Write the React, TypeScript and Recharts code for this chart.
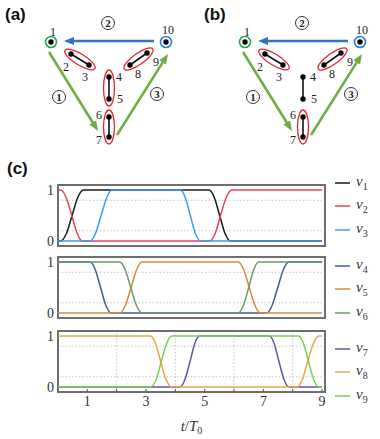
import {
  CartesianGrid,
  Legend,
  Line,
  LineChart,
  ReferenceArea,
  ReferenceDot,
  Scatter,
  ScatterChart,
  XAxis,
  YAxis,
} from "recharts";

// ---- panel (c) data: each series as time points and values
const v1Time = [0, 0.1, 0.29, 0.48, 0.67, 0.87, 5.15, 5.33, 5.51, 5.69, 5.87, 9];
const v1Vals = [0, 0, 0.15, 0.5, 0.85, 1, 1, 0.85, 0.5, 0.15, 0, 0];
const v2Time = [0, 0.1, 0.28, 0.47, 0.65, 0.83, 5.17, 5.36, 5.54, 5.73, 5.92, 9];
const v2Vals = [1, 1, 0.85, 0.5, 0.15, 0, 0, 0.15, 0.5, 0.85, 1, 1];
const v3Time = [0, 1.1, 1.28, 1.47, 1.66, 1.84, 4.17, 4.34, 4.51, 4.68, 4.85, 9];
const v3Vals = [0, 0, 0.15, 0.5, 0.85, 1, 1, 0.85, 0.5, 0.15, 0, 0];

const v4Time = [0, 1.1, 1.27, 1.45, 1.63, 1.8, 7.12, 7.3, 7.49, 7.68, 7.86, 9];
const v4Vals = [1, 1, 0.85, 0.5, 0.15, 0, 0, 0.15, 0.5, 0.85, 1, 1];
const v5Time = [0, 2.12, 2.3, 2.49, 2.68, 2.86, 6.15, 6.33, 6.52, 6.71, 6.89, 9];
const v5Vals = [0, 0, 0.15, 0.5, 0.85, 1, 1, 0.85, 0.5, 0.15, 0, 0];
const v6Time = [0, 2.1, 2.29, 2.48, 2.67, 2.86, 6.15, 6.32, 6.5, 6.67, 6.84, 9];
const v6Vals = [1, 1, 0.85, 0.5, 0.15, 0, 0, 0.15, 0.5, 0.85, 1, 1];

const v7Time = [0, 4.17, 4.33, 4.5, 4.66, 4.82, 7.21, 7.37, 7.53, 7.7, 7.86, 9];
const v7Vals = [0, 0, 0.15, 0.5, 0.85, 1, 1, 0.85, 0.5, 0.15, 0, 0];
const v8Time = [0, 3.15, 3.33, 3.5, 3.68, 3.86, 8.15, 8.33, 8.51, 8.7, 8.88, 9];
const v8Vals = [1, 1, 0.85, 0.5, 0.15, 0, 0, 0.15, 0.5, 0.85, 1, 1];
const v9Time = [0, 3.17, 3.35, 3.52, 3.7, 3.88, 8.2, 8.37, 8.54, 8.71, 8.88, 9];
const v9Vals = [0, 0, 0.15, 0.5, 0.85, 1, 1, 0.85, 0.5, 0.15, 0, 0];

const xTicks = [1, 2, 3, 4, 5, 6, 7, 8, 9];
const xLabelTicks = [1, 3, 5, 7, 9];
const yTicks = [0, 1];

// ---- panels (a)/(b) data: sites of the chain
const nodeIds = [1, 2, 3, 4, 5, 6, 7, 8, 9, 10];
const nodeX = [51, 71, 89, 109, 109, 109, 109, 130, 147, 166];
const nodeY = [42, 54, 65, 77, 99, 117, 137, 65, 53, 42];
const pairs = [
  [2, 3],
  [4, 5],
  [6, 7],
  [8, 9],
];
const circledA = [true, true, true, true];
const circledB = [true, false, true, true];

const stepLabels = ["1", "2", "3"];
const stepX = [59, 108, 157];
const stepY = [97, 23, 94];
const arrowFromX = [49, 154, 117];
const arrowFromY = [52, 41, 135];
const arrowToX = [98, 64, 168];
const arrowToY = [131, 41, 54];

const serif = '"Liberation Serif", "DejaVu Serif", serif';

const zip = (t: number[], v: number[]) => t.map((x, i) => ({ t: x, v: v[i] }));

type Series = { name: string; color: string; points: { t: number; v: number }[] };

const panel1: Series[] = [
  { name: "v1", color: "#1a1a1a", points: zip(v1Time, v1Vals) },
  { name: "v2", color: "#e8415f", points: zip(v2Time, v2Vals) },
  { name: "v3", color: "#3d9df2", points: zip(v3Time, v3Vals) },
];
const panel2: Series[] = [
  { name: "v4", color: "#3e5f99", points: zip(v4Time, v4Vals) },
  { name: "v5", color: "#d98a3a", points: zip(v5Time, v5Vals) },
  { name: "v6", color: "#6b9b6a", points: zip(v6Time, v6Vals) },
];
const panel3: Series[] = [
  { name: "v7", color: "#6650a6", points: zip(v7Time, v7Vals) },
  { name: "v8", color: "#eaa745", points: zip(v8Time, v8Vals) },
  { name: "v9", color: "#7ccf4e", points: zip(v9Time, v9Vals) },
];

const ringColor: Record<number, string> = { 1: "#27a553", 10: "#2a7dd1" };
const labelOffset: Record<number, [number, number]> = {
  1: [2, -10],
  2: [-5, 13],
  3: [-4, 12],
  4: [10, 0],
  5: [11, 0],
  6: [-10, -2],
  7: [-10, 3],
  8: [8, 9],
  9: [9, 9],
  10: [2, -12],
};
const arrowColors = ["#6fae45", "#2e75c0", "#6fae45"];

const emptyShape = () => <g />;

function NodeShape(props: any) {
  const { cx, cy, payload } = props;
  const ring = ringColor[payload.id];
  const [dx, dy] = labelOffset[payload.id];
  return (
    <g>
      {ring && <circle cx={cx} cy={cy} r={5.5} fill="#fff" stroke={ring} strokeWidth={1.6} />}
      <circle cx={cx} cy={cy} r={2.7} fill="#000" />
      <text
        x={cx + dx}
        y={cy + dy}
        textAnchor="middle"
        dominantBaseline="central"
        fontFamily={serif}
        fontSize={12}
        fill="#222"
        stroke="none"
      >
        {payload.id}
      </text>
    </g>
  );
}

function renderPair(p: any, circled: boolean) {
  const pts = p.points || [];
  if (pts.length < 2) return <g />;
  const [a, b] = pts;
  const mx = (a.x + b.x) / 2;
  const my = (a.y + b.y) / 2;
  const ang = (Math.atan2(b.y - a.y, b.x - a.x) * 180) / Math.PI;
  const half = Math.hypot(b.x - a.x, b.y - a.y) / 2;
  return (
    <g>
      {circled && (
        <ellipse
          cx={mx}
          cy={my}
          rx={half + 7}
          ry={5.5}
          transform={`rotate(${ang} ${mx} ${my})`}
          fill="none"
          stroke="#e3262b"
          strokeWidth={1.3}
        />
      )}
      <line x1={a.x} y1={a.y} x2={b.x} y2={b.y} stroke="#111" strokeWidth={1.6} />
    </g>
  );
}

function renderArrow(p: any, id: string, color: string) {
  const pts = p.points || [];
  if (pts.length < 2) return <g />;
  const [a, b] = pts;
  const len = Math.hypot(b.x - a.x, b.y - a.y);
  const ux = (b.x - a.x) / len;
  const uy = (b.y - a.y) / len;
  return (
    <g>
      <defs>
        <marker
          id={id}
          markerWidth={10}
          markerHeight={8}
          refX={3}
          refY={4}
          orient="auto"
          markerUnits="userSpaceOnUse"
        >
          <path d="M0,0 L10,4 L0,8 z" fill={color} />
        </marker>
      </defs>
      <line
        x1={a.x}
        y1={a.y}
        x2={b.x - ux * 7}
        y2={b.y - uy * 7}
        stroke={color}
        strokeWidth={2.6}
        markerEnd={`url(#${id})`}
      />
    </g>
  );
}

function Diagram({ id, circled }: { id: string; circled: boolean[] }) {
  const nodes = nodeIds.map((n, i) => ({ id: n, x: nodeX[i], y: nodeY[i] }));
  const find = (n: number) => nodes[nodeIds.indexOf(n)];
  return (
    <ScatterChart width={186} height={150} margin={{ top: 0, right: 0, bottom: 0, left: 0 }}>
      <XAxis type="number" dataKey="x" domain={[0, 186]} hide allowDataOverflow />
      <YAxis type="number" dataKey="y" domain={[0, 150]} reversed hide allowDataOverflow />
      {arrowFromX.map((_, i) => (
        <Scatter
          key={`arrow${i}`}
          data={[
            { x: arrowFromX[i], y: arrowFromY[i] },
            { x: arrowToX[i], y: arrowToY[i] },
          ]}
          shape={emptyShape}
          line={(p: any) => renderArrow(p, `${id}-arrow${i}`, arrowColors[i])}
          isAnimationActive={false}
        />
      ))}
      {pairs.map(([a, b], i) => (
        <Scatter
          key={`pair${i}`}
          data={[find(a), find(b)]}
          shape={emptyShape}
          line={(p: any) => renderPair(p, circled[i])}
          isAnimationActive={false}
        />
      ))}
      <Scatter data={nodes} shape={NodeShape} isAnimationActive={false} />
      {stepLabels.map((s, i) => (
        <ReferenceDot
          key={s}
          x={stepX[i]}
          y={stepY[i]}
          r={6.5}
          fill="#fff"
          stroke="#333"
          strokeWidth={1}
          label={{
            value: s,
            position: "center",
            fill: "#222",
            fontSize: 11,
            fontWeight: "bold",
            fontFamily: serif,
          }}
        />
      ))}
    </ScatterChart>
  );
}

function renderLegend(props: any) {
  const payload = props.payload ?? [];
  return (
    <div>
      {payload.map((entry: any) => (
        <div
          key={entry.value}
          style={{ display: "flex", alignItems: "center", height: 23.5 }}
        >
          <svg width={15} height={4}>
            <line x1={0} y1={2} x2={15} y2={2} stroke={entry.color} strokeWidth={1.5} />
          </svg>
          <span
            style={{
              marginLeft: 6,
              fontFamily: serif,
              fontStyle: "italic",
              fontSize: 15,
              color: "#333",
              lineHeight: 1,
            }}
          >
            v
            <sub style={{ fontSize: 10, fontStyle: "normal" }}>{String(entry.value).slice(1)}</sub>
          </span>
        </div>
      ))}
    </div>
  );
}

function OddTick(props: any) {
  const { x, y, payload } = props;
  if (!xLabelTicks.includes(payload.value)) return <g />;
  return (
    <text x={x} y={y + 7} textAnchor="middle" fontFamily={serif} fontSize={14} fill="#333">
      {payload.value}
    </text>
  );
}

function AxisTitle(props: any) {
  const { x, y, width } = props.viewBox;
  return (
    <text x={x + width / 2} y={y + 39} textAnchor="middle" fontFamily={serif} fontSize={15} fill="#333">
      <tspan fontStyle="italic">t</tspan>
      <tspan>/</tspan>
      <tspan fontStyle="italic">T</tspan>
      <tspan fontSize={10} dy={3}>
        0
      </tspan>
    </text>
  );
}

function SeriesPanel({
  series,
  top,
  height,
  bottom,
  legendTop,
  labels,
}: {
  series: Series[];
  top: number;
  height: number;
  bottom: number;
  legendTop: number;
  labels: boolean;
}) {
  return (
    <div style={{ position: "absolute", left: 0, top }}>
      <LineChart width={380} height={height} margin={{ top: 5, right: 55, bottom: 0, left: 0 }}>
        <CartesianGrid
          horizontalValues={[0.2, 0.4, 0.6, 0.8]}
          verticalValues={[2, 4, 6, 8]}
          stroke="#c4c4c4"
          strokeDasharray="1.5 2"
        />
        <XAxis
          type="number"
          dataKey="t"
          domain={[0, 9.1]}
          ticks={xTicks}
          interval={0}
          height={bottom}
          axisLine={false}
          tickSize={-3}
          tickMargin={10}
          tickLine={{ stroke: "#555" }}
          tick={labels ? OddTick : false}
          label={labels ? { content: AxisTitle } : undefined}
        />
        <YAxis
          type="number"
          domain={[-0.1, 1.1]}
          ticks={yTicks}
          width={58}
          axisLine={false}
          tickLine={false}
          tickSize={0}
          tickMargin={4}
          tick={{ fontFamily: serif, fontSize: 14, fill: "#333" }}
        />
        <ReferenceArea
          x1={0}
          x2={9.1}
          y1={-0.1}
          y2={1.1}
          fill="none"
          stroke="#6e6e6e"
          strokeWidth={2}
        />
        {series.map((s) => (
          <Line
            key={s.name}
            name={s.name}
            data={s.points}
            dataKey="v"
            type="monotone"
            stroke={s.color}
            strokeWidth={1.5}
            dot={false}
            isAnimationActive={false}
          />
        ))}
        <Legend
          layout="vertical"
          align="center"
          verticalAlign="middle"
          wrapperStyle={{ left: 335, top: legendTop, width: 45 }}
          content={renderLegend}
        />
      </LineChart>
    </div>
  );
}

const panelLabel = {
  position: "absolute" as const,
  fontFamily: '"Liberation Sans", Arial, sans-serif',
  fontWeight: "bold" as const,
  fontSize: 17,
  color: "#111",
  lineHeight: 1,
};

export default function App() {
  return (
    <div
      style={{
        position: "absolute",
        left: 0,
        top: 0,
        width: 380,
        height: 439,
        background: "#fff",
        overflow: "hidden",
      }}
    >
      <div style={{ position: "absolute", left: 0, top: 0 }}>
        <Diagram id="a" circled={circledA} />
      </div>
      <div style={{ position: "absolute", left: 194, top: 0 }}>
        <Diagram id="b" circled={circledB} />
      </div>
      <div style={{ ...panelLabel, left: 5, top: 6 }}>(a)</div>
      <div style={{ ...panelLabel, left: 204, top: 6 }}>(b)</div>
      <div style={{ ...panelLabel, left: 7, top: 160 }}>(c)</div>

      <SeriesPanel series={panel1} top={180} height={72} bottom={6} legendTop={-9} labels={false} />
      <SeriesPanel series={panel2} top={252} height={72} bottom={6} legendTop={2} labels={false} />
      <SeriesPanel series={panel3} top={326} height={113} bottom={47} legendTop={11} labels />
    </div>
  );
}
